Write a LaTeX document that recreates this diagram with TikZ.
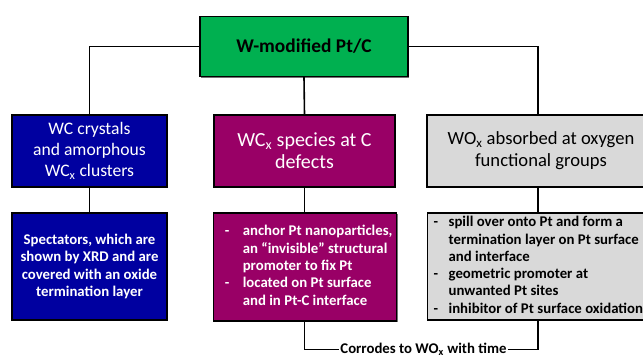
\documentclass[tikz,border=0pt]{standalone}
\usepackage{fontspec}
\setmainfont{Carlito}
\usetikzlibrary{shadows}
\definecolor{boxgreen}{RGB}{0,176,80}
\definecolor{boxblue}{RGB}{0,0,160}
\definecolor{boxmag}{RGB}{153,0,102}
\definecolor{boxgrey}{RGB}{217,217,217}
\tikzset{
  box/.style={draw=black, line width=1.3pt, rectangle, inner sep=0pt, align=center,
    drop shadow={shadow xshift=1.2pt, shadow yshift=-1.2pt, opacity=0.55, fill=black}},
  listtxt/.style={font=\bfseries\fontsize{14.8}{17.3}\selectfont},
  conn/.style={draw=black, line width=1.6pt}
}
\begin{document}
\begin{tikzpicture}[x=1pt,y=-1pt]
\clip (0,0) rectangle (643,358);
\fill[white] (0,0) rectangle (643,358);
% top
\node[box, fill=boxgreen, minimum width=208pt, minimum height=60pt,
  font=\bfseries\fontsize{19.4}{23}\selectfont] (top) at (304,46.5) {W-modified Pt/C};
% row 1
\node[box, fill=boxblue, text=white, font=\fontsize{17.6}{21}\selectfont, minimum width=155pt, minimum height=72pt] (b1) at (89.5,151)
  {WC crystals\\and amorphous\\WC\textsubscript{x} clusters};
\node[box, fill=boxmag, text=white, font=\fontsize{20}{22}\selectfont, minimum width=181pt, minimum height=72pt] (m1) at (304.5,151)
  {WC\textsubscript{x} species at C\\defects};
\node[box, fill=boxgrey, text=black, font=\fontsize{18.6}{22}\selectfont, minimum width=228pt, minimum height=72pt] (g1) at (541,151)
  {WO\textsubscript{x} absorbed at oxygen\\functional groups};
% row 2
\node[box, fill=boxblue, text=white, listtxt, minimum width=155pt, minimum height=107pt] (b2) at (89.5,266.5)
  {Spectators, which are\\shown by XRD and are\\covered with an oxide\\termination layer};
\node[box, fill=boxmag, text=white, listtxt, minimum width=183pt, minimum height=108pt, align=left, anchor=west] (m2) at (213,267)
  {\hspace{7pt}\begin{tabular}{@{}p{18pt}@{}l@{}}
  - & anchor Pt nanoparticles,\\
    & an ``invisible'' structural\\
    & promoter to fix Pt\\
  - & located on Pt surface\\
    & and in Pt-C interface
  \end{tabular}\hfill};
\node[box, fill=boxgrey, text=black, listtxt, minimum width=228pt, minimum height=107pt, align=left, anchor=west] (g2) at (427,266.5)
  {\hspace{6pt}\begin{tabular}{@{}p{15pt}@{}l@{}}
  - & spill over onto Pt and form a\\
    & termination layer on Pt surface\\
    & and interface\\
  - & geometric promoter at\\
    & unwanted Pt sites\\
  - & inhibitor of Pt surface oxidation
  \end{tabular}\hspace{20pt}};
% label
\node[font=\bfseries\fontsize{14.8}{16}\selectfont, inner xsep=1pt, inner ysep=0pt] (lab) at (423.5,349.5)
  {Corrodes to WO\textsubscript{x} with time};
% connectors
\draw[conn] (top.west) -| (b1.north);
\draw[conn] (top.east) -| ([xshift=-3pt]g1.north);
\draw[conn] (top.south) -- (m1.north);
\draw[conn] (b1.south) -- (b2.north);
\draw[conn] (m1.south) -- (m1.south |- m2.north);
\draw[conn] ([xshift=-3pt]g1.south) -- ([xshift=-3pt]g1.south |- g2.north);
\draw[conn] (m1.south |- m2.south) |- (lab.west);
\draw[conn] (lab.east) -| ([xshift=-3pt]g1.south |- g2.south);
\end{tikzpicture}
\end{document}
